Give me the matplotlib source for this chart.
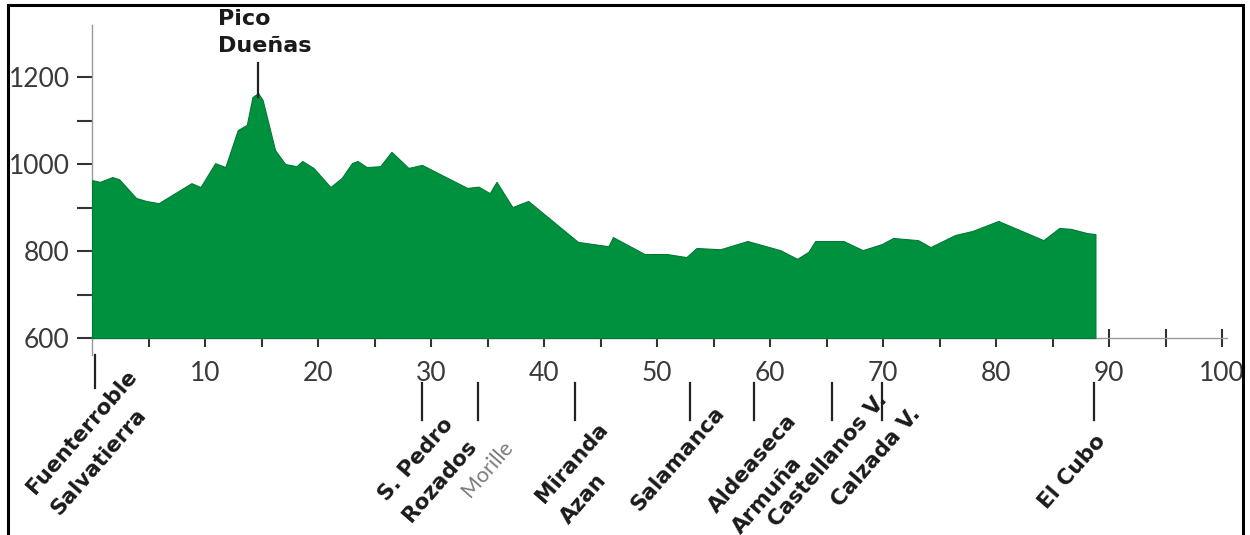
import matplotlib.pyplot as plt
from matplotlib.patches import Rectangle

# ---------------------------
# Data: elevation profile (km, m)
# ---------------------------

km = [0.0, 0.7, 1.8, 2.4, 3.9, 4.8, 5.9, 8.8, 9.6, 10.9, 11.8, 12.9, 13.7,
      14.2, 14.7, 15.1, 16.2, 17.1, 18.1, 18.6, 19.6, 21.1, 22.1, 23.0, 23.5,
      24.3, 25.5, 26.5, 28.0, 29.2, 33.2, 34.2, 35.2, 35.8, 37.2, 38.6, 43.0,
      45.7, 46.1, 48.9, 50.9, 52.6, 53.5, 55.6, 58.0, 60.9, 62.4, 63.4, 64.0,
      66.5, 68.2, 69.9, 70.9, 73.1, 74.2, 76.4, 77.9, 80.2, 84.2, 85.6, 86.6,
      88.1, 88.8]
elev = [963, 959, 970, 965, 922, 915, 910, 956, 947, 1002, 993, 1078, 1090,
        1154, 1163, 1147, 1032, 1000, 995, 1007, 991, 947, 968, 1002, 1007,
        993, 995, 1028, 991, 998, 945, 948, 933, 959, 901, 915, 821,
        811, 832, 793, 793, 786, 807, 804, 823, 802, 782, 798, 823,
        823, 802, 816, 830, 825, 809, 837, 846, 869, 825, 853, 851,
        841, 839]

towns = ['Fuenterroble\nSalvatierra', 'S. Pedro\nRozados', 'Morille',
         'Miranda\nAzan', 'Salamanca', 'Aldeaseca\nArmuña', 'Castellanos V.',
         'Calzada V.', 'El Cubo']
town_km = [0.3, 29.2, 34.2, 42.7, 52.9, 58.6, 65.5, 69.9, 88.7]
minor_town = [False, False, True, False, False, False, False, False, False]

peak_name = 'Pico\nDueñas'
peak_km = 14.7

y_ticks = [600, 800, 1000, 1200]
y_minor = [700, 900, 1100]
x_ticks = list(range(10, 101, 10))
x_minor = list(range(5, 100, 10))

# label placement (pixels: shift of last line start from marker, its baseline)
label_pos = [(-45, 508), (-20, 515), (-8, 498), (-15, 517), (-50, 512),
             (-22, 527), (-55, 528), (-42, 508), (-47, 510)]

# ---------------------------
# Plot
# ---------------------------

plt.rcParams['font.family'] = ['Lato', 'DejaVu Sans']
GREEN = '#00913f'
DARK = '#333333'

fig = plt.figure(figsize=(12.5, 5.35), dpi=100)
ax = fig.add_axes([92 / 1250, 0.3316, 1130 / 1250, 0.622])

ax.fill_between(km, elev, 600, color=GREEN, edgecolor='#007a34',
                linewidth=0.8, zorder=3)

ax.set_xlim(0, 100)
ax.set_ylim(555, 1320)

for side in ['top', 'right']:
    ax.spines[side].set_visible(False)
ax.spines['left'].set_color('#999999')
ax.spines['left'].set_linewidth(1)
ax.spines['left'].set_bounds(560, 1320)
ax.spines['bottom'].set_position(('data', 600))
ax.spines['bottom'].set_color('#999999')
ax.spines['bottom'].set_linewidth(1)
ax.spines['bottom'].set_bounds(0, 100.4)

ax.set_yticks(y_ticks)
ax.set_yticks(y_minor, minor=True)
ax.set_xticks(x_ticks)
ax.set_xticks(x_minor, minor=True)

ax.tick_params(axis='y', which='both', direction='out', length=11, width=1.5,
               color=DARK, pad=5, labelsize=19, labelcolor='#3a3a3a')
ax.tick_params(axis='x', which='both', direction='inout', length=13, width=1.5,
               color=DARK, pad=10, labelsize=19, labelcolor='#3a3a3a')

# peak label
ax.plot([peak_km, peak_km], [1154, 1232], color='#222222', lw=1.6,
        clip_on=False, zorder=4)
ax.text(peak_km - 3.55, 1257, peak_name, ha='left', va='baseline',
        fontsize=16, fontweight='bold', family='DejaVu Sans',
        color='#1a1a1a', linespacing=1.45)

# town markers and labels
for name, k, minor, (dx, py) in zip(towns, town_km, minor_town, label_pos):
    if k < 1:
        top, bottom = 561, 485
    else:
        top, bottom = 497, 412
    ax.plot([k, k], [top, bottom], color='#222222', lw=1.6, clip_on=False)
    ax.annotate(name, xy=(k, 600), xytext=(dx * 0.72, -(py - 338) * 0.72),
                textcoords='offset points', rotation=49,
                rotation_mode='anchor', ha='left', va='baseline',
                multialignment='left', linespacing=1.75,
                fontsize=15.5, family='Lato' if minor else 'DejaVu Sans',
                fontweight='normal' if minor else 'bold',
                color='#7d7d7d' if minor else '#1a1a1a',
                annotation_clip=False)

# frame around the figure
fig.add_artist(Rectangle((8 / 1250, -0.02), 1235 / 1250, 1 - 5 / 535 + 0.02,
                         transform=fig.transFigure, fill=False,
                         edgecolor='black', linewidth=2.2, zorder=10))

fig.savefig('out.png', dpi=100)
